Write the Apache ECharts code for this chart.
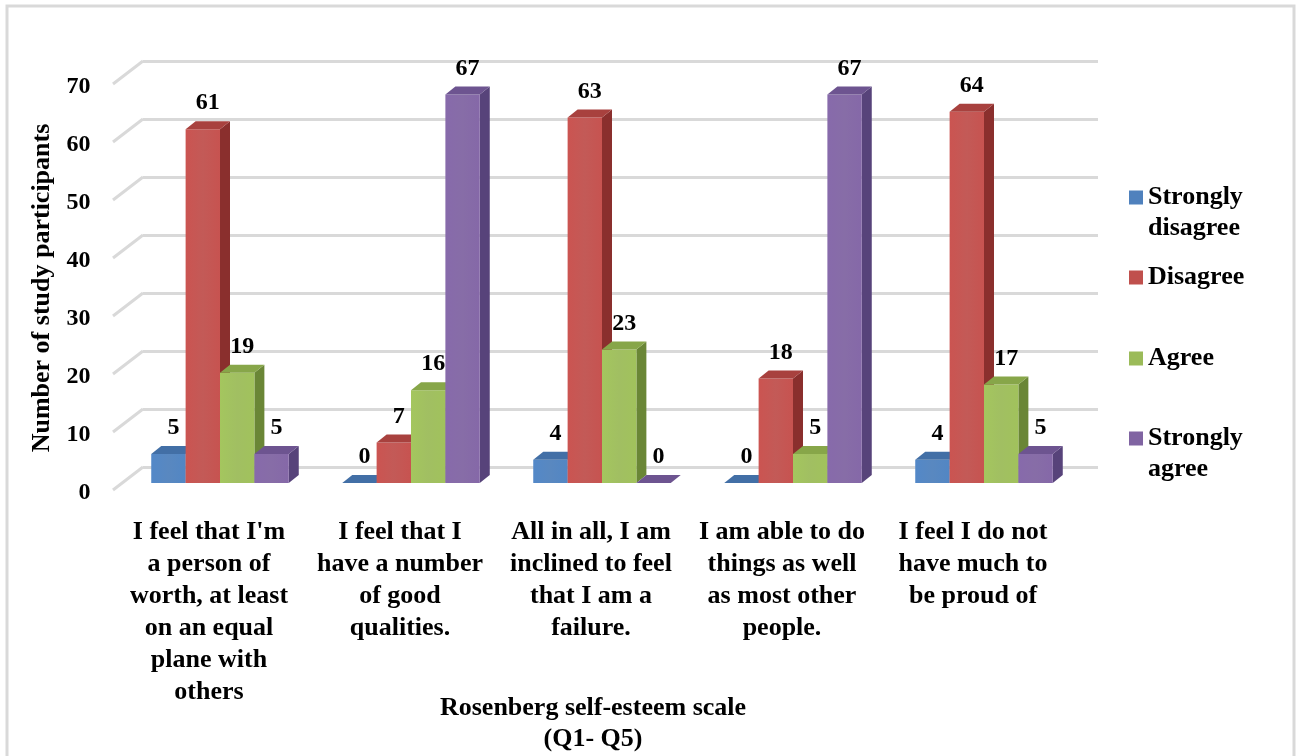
<!DOCTYPE html>
<html>
<head>
<meta charset="utf-8">
<script src="https://cdn.jsdelivr.net/npm/echarts@6/dist/echarts.min.js"></script>
<style>
  html, body { margin: 0; padding: 0; background: #fff; }
  #chart { width: 1299px; height: 756px; }
</style>
</head>
<body>
<div id="chart"></div>
<script>
// --- data ---
const categories = [
  "I feel that I'm\na person of\nworth, at least\non an equal\nplane with\nothers",
  "I feel that I\nhave a number\nof good\nqualities.",
  "All in all, I am\ninclined to feel\nthat I am a\nfailure.",
  "I am able to do\nthings as well\nas most other\npeople.",
  "I feel I do not\nhave much to\nbe proud of"
];
const seriesNames = ["Strongly disagree", "Disagree", "Agree", "Strongly agree"];
const stronglyDisagree = [5, 0, 4, 0, 4];
const disagree = [61, 7, 63, 18, 64];
const agree = [19, 16, 23, 5, 17];
const stronglyAgree = [5, 67, 0, 67, 5];
const yTicks = [0, 10, 20, 30, 40, 50, 60, 70];

const allValues = [stronglyDisagree, disagree, agree, stronglyAgree];

// front / side / top colours for the fake 3D bars
const palette = [
  { front: "#4f81bd", side: "#30588a", top: "#426fa6" },
  { front: "#c0504d", side: "#8a2f2d", top: "#a8413e" },
  { front: "#9bbb59", side: "#6a8636", top: "#87a649" },
  { front: "#8064a2", side: "#57437a", top: "#6d5490" }
];

const FONT = '"Liberation Serif", "Times New Roman", serif';
const DX = 10, DY = 8;   // depth of the 3D bars

const chart = echarts.init(document.getElementById("chart"));

function bar3d(idx) {
  return function (params, api) {
    const cat = api.value(0);
    const v = api.value(1);
    const base = api.coord([cat, 0]);
    const top = api.coord([cat, v]);
    const band = api.size([1, 0])[0];
    const w = band * 0.18;
    const x0 = base[0] - 2 * w + idx * w;
    const c = palette[idx];
    const frontFill = new echarts.graphic.LinearGradient(0, 0, 1, 0, [
      { offset: 0, color: echarts.color.lift(c.front, -0.06) },
      { offset: 0.5, color: echarts.color.lift(c.front, 0.06) },
      { offset: 1, color: echarts.color.lift(c.front, -0.04) }
    ]);
    return {
      type: "group",
      children: [
        {
          type: "polygon",
          shape: { points: [[x0 + w, top[1]], [x0 + w + DX, top[1] - DY], [x0 + w + DX, base[1] - DY], [x0 + w, base[1]]] },
          style: { fill: c.side }
        },
        {
          type: "rect",
          shape: { x: x0, y: top[1], width: w, height: base[1] - top[1] },
          style: { fill: frontFill }
        },
        {
          type: "polygon",
          shape: { points: [[x0, top[1]], [x0 + DX, top[1] - DY], [x0 + w + DX, top[1] - DY], [x0 + w, top[1]]] },
          style: { fill: c.top }
        },
        {
          type: "text",
          x: x0 + w / 2 + DX / 2,
          y: top[1] - DY - 6,
          style: {
            text: String(v),
            fill: "#000",
            font: "bold 24px " + FONT,
            align: "center",
            verticalAlign: "bottom"
          }
        }
      ]
    };
  };
}

const barSeries = seriesNames.map((name, i) => ({
  name: name,
  type: "custom",
  xAxisIndex: 1,
  yAxisIndex: 1,
  itemStyle: { color: palette[i].front },
  renderItem: bar3d(i),
  encode: { x: 0, y: 1 },
  data: allValues[i].map((v, k) => [k, v]),
  z: 3
}));

// slanted lines on the left wall, joining the front ticks to the back wall gridlines
const wallSeries = {
  type: "custom",
  xAxisIndex: 0,
  yAxisIndex: 0,
  silent: true,
  encode: { x: 0, y: 1 },
  data: yTicks.map(v => [0, v]),
  renderItem: function (params, api) {
    const y = api.coord([0, api.value(1)])[1];
    const x = params.coordSys.x;
    return {
      type: "line",
      shape: { x1: x - 30, y1: y + 23, x2: x, y2: y },
      style: { stroke: "#d9d9d9", lineWidth: 3 }
    };
  },
  z: 1
};

const twoLineIcon = "path://M0,0L0.01,0M0,8.5L14,8.5L14,22.5L0,22.5ZM0,62L0.01,62";
const legendBase = {
  orient: "vertical",
  left: 1129,
  padding: 0,
  selectedMode: false,
  itemWidth: 14,
  itemHeight: 14,
  itemStyle: { borderWidth: 0 },
  textStyle: { fontFamily: FONT, fontWeight: "bold", fontSize: 26, color: "#000", lineHeight: 31 }
};

const option = {
  backgroundColor: "#fff",
  animation: false,
  graphic: [{
    type: "rect",
    shape: { x: 7, y: 6, width: 1287, height: 780 },
    style: { fill: null, stroke: "#d9d9d9", lineWidth: 3 },
    silent: true,
    z: -10
  }],
  title: {
    text: "Rosenberg self-esteem scale\n(Q1- Q5)",
    left: 593,
    top: 693,
    padding: 0,
    textAlign: "center",
    textStyle: { fontFamily: FONT, fontWeight: "bold", fontSize: 26, color: "#000", lineHeight: 31 }
  },
  legend: [
    Object.assign({}, legendBase, {
      top: 182, data: [{ name: seriesNames[0], icon: twoLineIcon }], itemHeight: 62,
      formatter: () => "Strongly\ndisagree"
    }),
    Object.assign({}, legendBase, { top: 262, data: [{ name: seriesNames[1], icon: "rect" }] }),
    Object.assign({}, legendBase, { top: 343, data: [{ name: seriesNames[2], icon: "rect" }] }),
    Object.assign({}, legendBase, {
      top: 423, data: [{ name: seriesNames[3], icon: twoLineIcon }], itemHeight: 62,
      formatter: () => "Strongly\nagree"
    })
  ],
  grid: [
    // back wall
    { left: 143, top: 61, width: 955, height: 406 },
    // front plane with the bars
    { left: 124.5, top: 77, width: 955, height: 406 }
  ],
  xAxis: [
    { gridIndex: 0, type: "category", data: categories, show: false },
    {
      gridIndex: 1,
      type: "category",
      data: categories,
      axisLine: { show: false },
      axisTick: { show: false },
      axisLabel: {
        interval: 0,
        margin: 33,
        padding: [0, 22, 0, 0],
        fontFamily: FONT,
        fontWeight: "bold",
        fontSize: 26,
        lineHeight: 32,
        color: "#000"
      }
    }
  ],
  yAxis: [
    {
      gridIndex: 0,
      type: "value",
      min: 0, max: 70, interval: 10,
      axisLine: { show: false },
      axisTick: { show: false },
      axisLabel: { show: false },
      splitLine: { show: true, lineStyle: { color: "#d9d9d9", width: 3 } }
    },
    {
      gridIndex: 1,
      type: "value",
      min: 0, max: 70, interval: 10,
      name: "Number of study participants",
      nameLocation: "middle",
      nameGap: 59,
      nameTextStyle: {
        fontFamily: FONT, fontWeight: "bold", fontSize: 26, color: "#000",
        padding: [0, 16, 0, 0], backgroundColor: "rgba(0,0,0,0)"
      },
      axisLine: { show: false },
      axisTick: { show: false },
      splitLine: { show: false },
      axisLabel: {
        margin: 34,
        verticalAlign: "top",
        lineHeight: 20,
        fontFamily: FONT,
        fontWeight: "bold",
        fontSize: 24,
        color: "#000"
      }
    }
  ],
  series: [wallSeries].concat(barSeries)
};

chart.setOption(option);
</script>
</body>
</html>
